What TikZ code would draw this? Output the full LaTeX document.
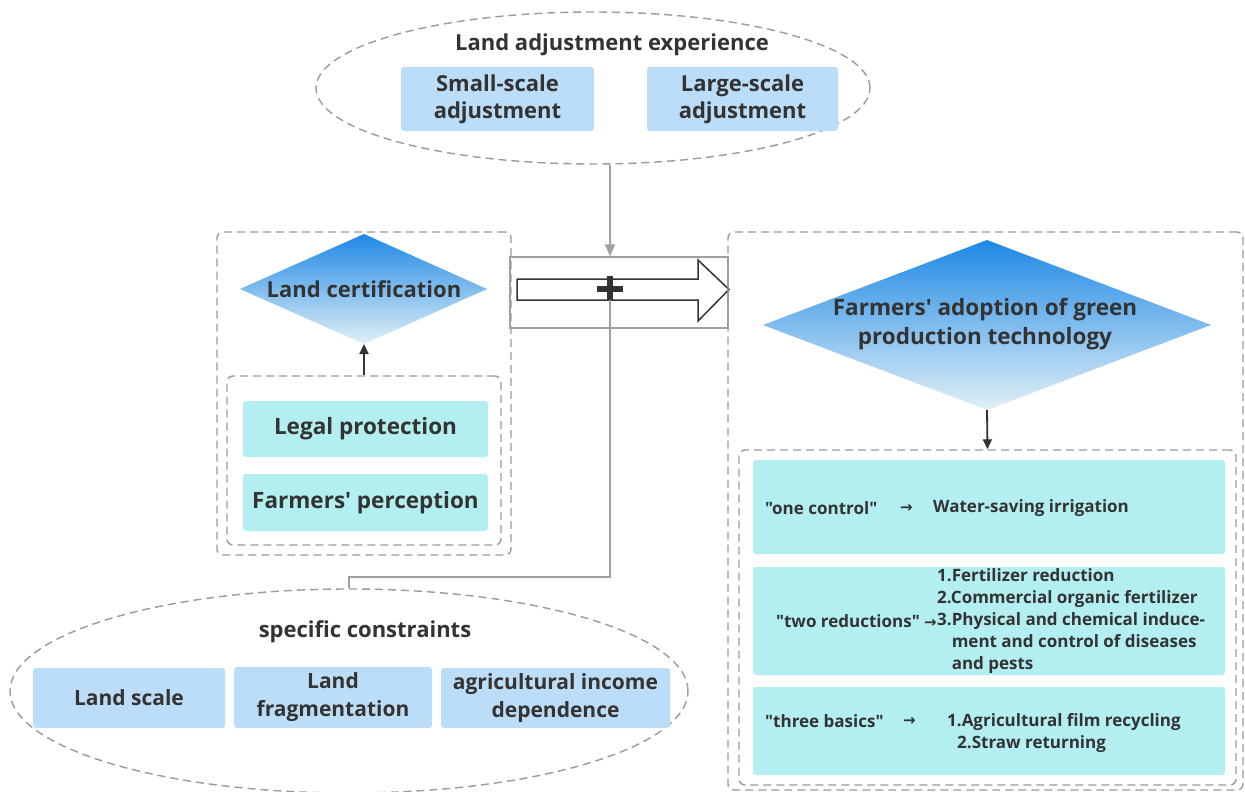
\documentclass[tikz,border=0pt]{standalone}
\usepackage{fontspec}
\setmainfont{Open Sans}[Ligatures=TeXOff]
\newfontfamily\arr{DejaVu Sans}
\usetikzlibrary{shapes.geometric,arrows.meta}
\definecolor{txt}{HTML}{333333}
\definecolor{dashg}{HTML}{9A9A9A}
\definecolor{lineg}{HTML}{A0A0A0}
\definecolor{lblue}{HTML}{BCDDF7}
\definecolor{lcyan}{HTML}{B3EEF0}
\definecolor{dtop}{HTML}{1E88E5}
\definecolor{dbot}{HTML}{E2F0F6}
\tikzset{
  dashbox/.style={draw=dashg, line width=1.4pt, dash pattern=on 8pt off 5pt, rounded corners=6pt},
  bluebox/.style={fill=lblue, rounded corners=3pt, inner sep=0pt, align=center, text=txt, font=\fontsize{22}{27}\selectfont\bfseries},
  cyanbox/.style={fill=lcyan, rounded corners=3pt, inner sep=0pt, align=center, text=txt, font=\fontsize{22.5}{27}\selectfont\bfseries},
  title/.style={text=txt, font=\fontsize{22}{24}\selectfont\bfseries, inner sep=0pt},
  small/.style={text=txt, font=\fontsize{17}{22}\selectfont\bfseries, inner sep=0pt, align=left},
  gline/.style={draw=lineg, line width=1.5pt},
  darrow/.style={draw=txt, line width=1.8pt, -{Triangle[length=10pt,width=9pt]}},
}
\begin{document}
\begin{tikzpicture}[x=1pt,y=-1pt]
\useasboundingbox (0,0) rectangle (1245,792);

% ---------- top ellipse ----------
\node[ellipse, dashbox, rounded corners=0pt, minimum width=554pt, minimum height=152pt, inner sep=0pt] (topell) at (593,88) {};
\node[title] (toptitle) at (612,45) {Land adjustment experience};
\node[bluebox, minimum width=193pt, minimum height=64pt] (small) at (497.5,99) {Small-scale\\adjustment};
\node[bluebox, minimum width=191pt, minimum height=64pt] (large) at (742.5,99) {Large-scale\\adjustment};

% ---------- left block ----------
\node[dashbox, minimum width=294pt, minimum height=323pt, inner sep=0pt] (leftbox) at (364,393.5) {};
\shade[top color=dtop, bottom color=dbot] (240,289) -- (364,234) -- (487,289) -- (364,344) -- cycle;
\node[title] (landcert) at (364,289) {Land certification};
\coordinate (lcbot) at (364,344);
\node[dashbox, minimum width=274pt, minimum height=169pt, inner sep=0pt] (innerleft) at (364,460.5) {};
\node[cyanbox, minimum width=245pt, minimum height=56pt] (legal) at (365.5,429) {Legal protection};
\node[cyanbox, minimum width=245pt, minimum height=57pt] (percep) at (365.5,502.5) {Farmers' perception};
\draw[darrow] (innerleft.north) -- (lcbot);

% ---------- middle bracket and arrow ----------
\node[draw=lineg, line width=1.5pt, minimum width=218pt, minimum height=71pt, inner sep=0pt] (bracket) at (619,292.5) {};
\draw[draw=txt, fill=white, line width=1.5pt, line join=miter]
  (517,279) -- (698,279) -- (698,260) -- (729,289.5) -- (698,321) -- (698,300) -- (517,300) -- cycle;
\coordinate (plusc) at (610,289);
\node[inner sep=0pt] (plus) at (plusc) {};
\draw[gline] (plusc) -- (610,300);
\fill[txt] (597,286) rectangle (623,292);
\fill[txt] (607,276) rectangle (613,300);
\draw[gline, -{Triangle[length=12pt,width=10pt]}] (plusc |- topell.south) -- (plusc |- bracket.north);

% ---------- bottom ellipse ----------
\node[ellipse, dashbox, rounded corners=0pt, minimum width=678pt, minimum height=204pt, inner sep=0pt] (botell) at (349,691) {};
\coordinate (bend) at (349,577);
\draw[gline] (610,300) |- (bend) -- (botell.north);
\node[title] (spec) at (365,632) {specific constraints};
\node[bluebox, minimum width=192pt, minimum height=60pt, font=\fontsize{21}{28}\selectfont\bfseries] (lscale) at (129,698) {Land scale};
\node[bluebox, minimum width=198pt, minimum height=61pt, font=\fontsize{21}{28}\selectfont\bfseries] (lfrag) at (333,697.5) {Land\\fragmentation};
\node[bluebox, minimum width=229pt, minimum height=60pt, font=\fontsize{21}{28}\selectfont\bfseries] (income) at (555.5,698) {agricultural income\\dependence};

% ---------- right block ----------
\node[dashbox, minimum width=515pt, minimum height=558pt, inner sep=0pt] (rightbox) at (985.5,511) {};
\shade[top color=dtop, bottom color=dbot] (763,325) -- (987,240) -- (1211,325) -- (987,410) -- cycle;
\node[title, align=center, font=\fontsize{22.5}{29}\selectfont\bfseries] (adopt) at (985,324) {Farmers' adoption of green\\production technology};
\coordinate (adbot) at (987,410);
\node[dashbox, minimum width=497pt, minimum height=335pt, inner sep=0pt] (innerright) at (987.5,617.5) {};
\draw[darrow] (adbot) -- (innerright.north);

\node[cyanbox, minimum width=472pt, minimum height=94pt] (b1) at (989,507) {};
\node[small, anchor=west] (b1a) at (765,508) {"one control"};
\node[small, anchor=west] (b1b) at (900,508) {{\arr\fontsize{15}{22}\selectfont →}};
\node[small, anchor=west] (b1c) at (933,508) {Water-saving irrigation};

\node[cyanbox, minimum width=472pt, minimum height=108pt] (b2) at (989,621) {};
\node[small, anchor=east] (b2a) at (937,621) {"two reductions" {\arr\fontsize{15}{22}\selectfont →}};
\node[small, anchor=west] (b2b) at (937,621) {1.Fertilizer reduction\\2.Commercial organic fertilizer\\3.Physical and chemical induce-\\\phantom{3.}ment and control of diseases\\\phantom{3.}and pests};

\node[cyanbox, minimum width=472pt, minimum height=88pt] (b3) at (989,731) {};
\node[small, anchor=west] (b3a) at (765,721) {"three basics"};
\node[small, anchor=west] (b3b) at (903,721) {{\arr\fontsize{15}{22}\selectfont →}};
\node[small, anchor=north west] (b3c) at (947,713) {1.Agricultural film recycling\\\hspace*{10pt}2.Straw returning};
\end{tikzpicture}
\end{document}
